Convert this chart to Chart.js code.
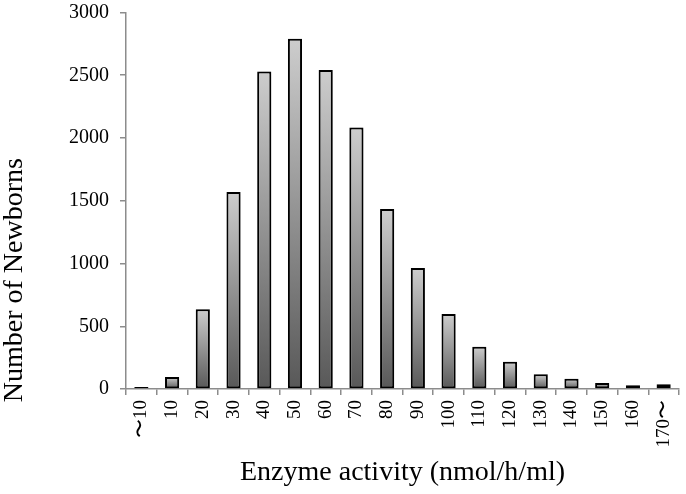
<!DOCTYPE html>
<html>
<head>
<meta charset="utf-8">
<script src="https://cdn.jsdelivr.net/npm/chart.js@4/dist/chart.umd.min.js"></script>
<style>
html,body{margin:0;padding:0;background:#fff;}
#wrap{width:686px;height:494px;}
</style>
</head>
<body>
<div id="wrap"><canvas id="c" width="686" height="494"></canvas></div>
<script>
const categories = ["〜10","10","20","30","40","50","60","70","80","90","100","110","120","130","140","150","160","170〜"];
const newborns = [15,95,635,1570,2530,2790,2542,2083,1435,964,598,337,218,117,82,48,29,38];
const yTicks = [0,500,1000,1500,2000,2500,3000];

const serif = "'Liberation Serif','Times New Roman',serif";

const shadowPlugin = {
  id: 'barShadow',
  beforeDatasetDraw(chart) {
    const ctx = chart.ctx;
    ctx.save();
    ctx.shadowColor = 'rgba(0,0,0,0.22)';
    ctx.shadowBlur = 4;
    ctx.shadowOffsetX = 1;
    ctx.shadowOffsetY = 0;
  },
  afterDatasetDraw(chart) {
    chart.ctx.restore();
  }
};

function barGradient(context) {
  const chart = context.chart;
  const y = chart.scales.y;
  if (!y || !chart.chartArea) return '#999';
  const v = context.raw;
  const top = y.getPixelForValue(v);
  const base = y.getPixelForValue(0);
  if (!isFinite(top) || !isFinite(base) || base - top < 1) return '#999';
  const g = chart.ctx.createLinearGradient(0, top, 0, base);
  g.addColorStop(0, '#cdcdcd');
  g.addColorStop(1, '#585858');
  return g;
}

new Chart(document.getElementById('c'), {
  type: 'bar',
  data: {
    labels: categories,
    datasets: [{
      data: newborns,
      backgroundColor: barGradient,
      borderColor: '#000',
      borderWidth: 2,
      borderSkipped: false,
      barPercentage: 0.46,
      categoryPercentage: 1.0
    }]
  },
  plugins: [shadowPlugin],
  options: {
    responsive: false,
    animation: false,
    devicePixelRatio: 1,
    layout: { padding: { top: 12.5, right: 7, left: 0, bottom: 0 } },
    plugins: { legend: { display: false }, tooltip: { enabled: false } },
    scales: {
      x: {
        grid: { display: true, drawOnChartArea: false, drawTicks: true, tickLength: 6, color: '#8c8c8c', lineWidth: 1.5, offset: true },
        border: { display: true, color: '#8c8c8c', width: 1.5 },
        ticks: { minRotation: 90, maxRotation: 90, autoSkip: false, padding: 5, color: '#000', font: { family: serif, size: 19 } },
        title: { display: true, text: 'Enzyme activity (nmol/h/ml)', color: '#000', font: { family: serif, size: 28, lineHeight: 1 }, padding: { top: 0, bottom: 7 } },
        afterFit(scale) { scale.height = 105; scale.paddingLeft = 0; scale.paddingRight = 0; }
      },
      y: {
        min: 0, max: 3000,
        afterBuildTicks(scale) { scale.ticks = yTicks.map(v => ({ value: v })); },
        grid: { display: true, drawOnChartArea: false, drawTicks: true, tickLength: 6, color: '#8c8c8c', lineWidth: 1.5 },
        border: { display: true, color: '#8c8c8c', width: 1.5 },
        ticks: { padding: 11, color: '#000', font: { family: serif, size: 20 }, callback: (v) => String(v) },
        title: { display: true, align: 'end', text: 'Number of Newborns' + '\u0020'.repeat(20) + '\u2009', color: '#000', font: { family: serif, size: 28, lineHeight: 1 }, padding: { top: 1, bottom: 0 } },
        afterFit(scale) { scale.width = 126; scale.paddingTop = 0; scale.paddingBottom = 0; }
      }
    }
  }
});
</script>
</body>
</html>
